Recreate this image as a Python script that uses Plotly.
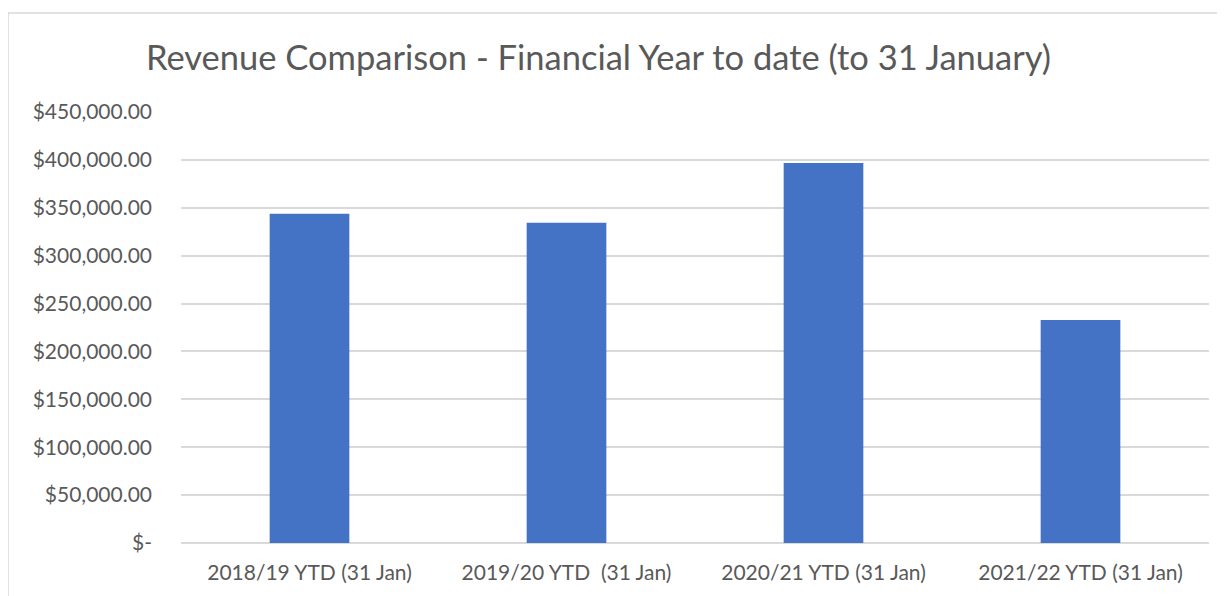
import plotly.graph_objects as go

categories = ["2018/19 YTD (31 Jan)", "2019/20 YTD  (31 Jan)", "2020/21 YTD (31 Jan)", "2021/22 YTD (31 Jan)"]
revenue = [343800, 334400, 396700, 232800]
tick_values = [0, 50000, 100000, 150000, 200000, 250000, 300000, 350000, 400000, 450000]
tick_labels = ["$-", "$50,000.00", "$100,000.00", "$150,000.00", "$200,000.00", "$250,000.00",
               "$300,000.00", "$350,000.00", "$400,000.00", "$450,000.00"]

# page has an 8px body margin, so the figure is drawn from (8, 8)
OFF = 8
W, H = 1225 - OFF, 596 - OFF
L, R, T, B = 181 - OFF, 16, 112 - OFF, 53
pw, ph = W - L - R, H - T - B

def px_x(px):
    return (px - OFF - L) / pw

def px_y(py):
    return (H - B - (py - OFF)) / ph

font = "Lato, 'Open Sans', sans-serif"

fig = go.Figure(go.Bar(
    x=categories, y=revenue, marker=dict(color="#4472C4", line=dict(width=0)),
    width=0.31,
))

fig.update_layout(
    width=W, height=H,
    margin=dict(l=L, r=R, t=T, b=B),
    paper_bgcolor="white", plot_bgcolor="white",
    showlegend=False,
    font=dict(family=font, color="#595959"),
    title=dict(text="Revenue Comparison - Financial Year to date (to 31 January)",
               x=((145 + 1052) / 2 - OFF) / W, xanchor="center", y=1 - (58 - OFF) / H, yanchor="middle",
               font=dict(size=34.5, color="#595959", family=font)),
    xaxis=dict(showgrid=False, showline=False, ticks="", tickfont=dict(size=21, color="#595959"),
               ticklabelstandoff=15),
    yaxis=dict(range=[0, 450000], tickmode="array", tickvals=tick_values, ticktext=tick_labels,
               showgrid=True, gridcolor="#D9D9D9", gridwidth=1.5, zeroline=True,
               zerolinecolor="#D9D9D9", zerolinewidth=1.5, showline=False,
               tickfont=dict(size=21, color="#595959"), ticks="", ticklabelstandoff=28),
    bargap=0.69,
)

# chart border (top and left edges visible)
fig.add_shape(type="line", xref="paper", yref="paper", x0=px_x(8), x1=px_x(1225), y0=px_y(13), y1=px_y(13),
              line=dict(color="#D9D9D9", width=1.5), layer="below")
fig.add_shape(type="line", xref="paper", yref="paper", x0=px_x(8), x1=px_x(8), y0=px_y(13), y1=px_y(596),
              line=dict(color="#D9D9D9", width=1.5), layer="below")

fig.write_html("out.html")
